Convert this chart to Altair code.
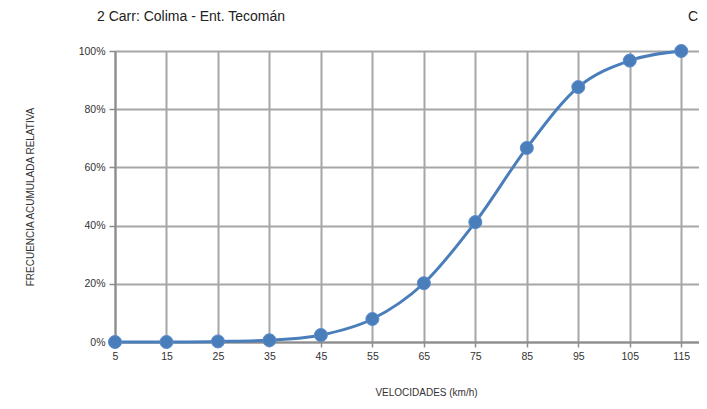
import altair as alt
import pandas as pd

velocidades = [5, 15, 25, 35, 45, 55, 65, 75, 85, 95, 105, 115]
frecuencia = [0.0, 0.0, 0.002, 0.006, 0.024, 0.079, 0.202, 0.412, 0.667, 0.876, 0.967, 1.0]
y_ticks = [0, 0.2, 0.4, 0.6, 0.8, 1.0]

df = pd.DataFrame({"vel": velocidades, "frec": frecuencia})

FONT = "Liberation Sans, Arial, sans-serif"
BLUE = "#4a7ebb"
GRID = "#a6a6a6"

x_enc = alt.X(
    "vel:Q",
    scale=alt.Scale(domain=[5, 118.45], nice=False, zero=False),
    axis=alt.Axis(
        values=velocidades, title="VELOCIDADES  (km/h)", grid=True,
        gridColor=GRID, gridWidth=2, domainColor="#8c8c8c", domainWidth=2,
        tickColor="#8c8c8c", tickSize=5, tickWidth=1.5, labelPadding=4,
        labelFlush=False,
        labelFont=FONT, labelFontSize=10.5, labelColor="#333333",
        titleFont=FONT, titleFontSize=10, titleFontWeight="normal",
        titleColor="#333333", titleX=311, titleY=50, titleBaseline="middle",
    ),
)
y_enc = alt.Y(
    "frec:Q",
    scale=alt.Scale(domain=[0, 1], nice=False),
    axis=alt.Axis(
        values=y_ticks, format=".0%", title="FRECUENCIA  ACUMULADA RELATIVA",
        grid=True, gridColor=GRID, gridWidth=2, domainColor="#8c8c8c",
        domainWidth=2, tickColor="#8c8c8c", tickSize=6, tickWidth=1.5,
        labelPadding=4, labelFlush=False,
        labelFont=FONT, labelFontSize=10.5, labelColor="#333333",
        titleFont=FONT, titleFontSize=10, titleFontWeight="normal",
        titleColor="#333333", titleX=-85, titleY=145.5, titleAngle=270,
        titleAlign="center", titleBaseline="middle",
    ),
)

base = alt.Chart(df)
line = base.mark_line(color=BLUE, strokeWidth=3, interpolate="monotone").encode(x=x_enc, y=y_enc)
pts = base.mark_point(filled=True, color=BLUE, size=170, opacity=1,
                      stroke="#5b8ccc", strokeWidth=1).encode(x="vel:Q", y="frec:Q")

title_df = pd.DataFrame({"t": ["2 Carr: Colima - Ent. Tecomán"]})
title = alt.Chart(title_df).mark_text(
    align="left", baseline="middle", font=FONT, fontSize=14, color="#222222"
).encode(text="t:N", x=alt.value(-18), y=alt.value(-34))

c_df = pd.DataFrame({"t": ["C"]})
ctext = alt.Chart(c_df).mark_text(
    align="left", baseline="middle", font=FONT, fontSize=14, color="#222222"
).encode(text="t:N", x=alt.value(573), y=alt.value(-34))

chart = alt.layer(line, pts, title, ctext).properties(
    width=584, height=291,
    autosize=alt.AutoSizeParams(type="none"),
    padding={"left": 107, "top": 43, "right": 0, "bottom": 58},
).configure_view(stroke=None).configure(background="white")

chart.save("out.html", embed_options={"renderer": "svg", "actions": False})
